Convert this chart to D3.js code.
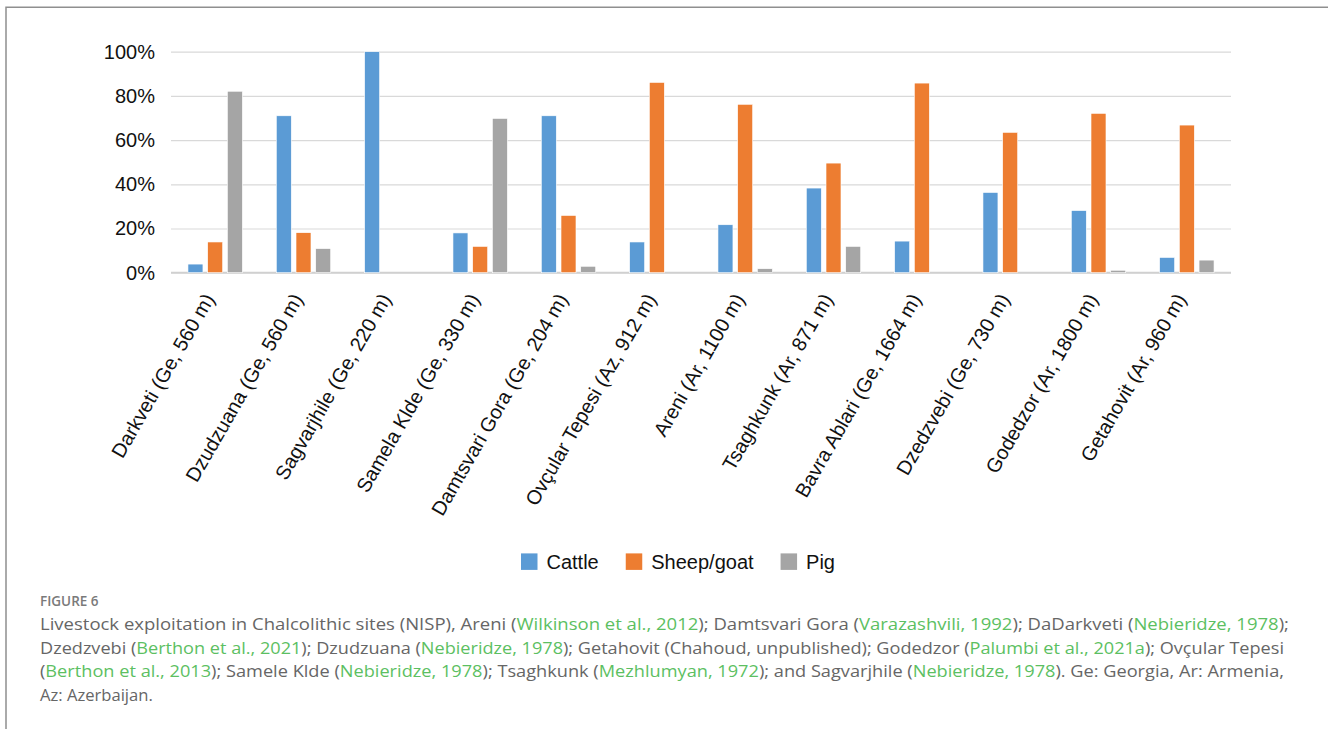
<!DOCTYPE html>
<html>
<head>
<meta charset="utf-8">
<title>Livestock exploitation in Chalcolithic sites</title>
<script src="https://d3js.org/d3.v7.min.js"></script>
<style>
  body { margin: 0; background: #fff; }
  svg { display: block; }
</style>
</head>
<body>
<svg width="1328" height="729"></svg>
<script>
  // values, % of NISP
  var sites = ["Darkveti (Ge, 560 m)", "Dzudzuana (Ge, 560 m)", "Sagvarjhile (Ge, 220 m)",
    "Samela Klde (Ge, 330 m)", "Damtsvari Gora (Ge, 204 m)", "Ovçular Tepesi (Az, 912 m)",
    "Areni (Ar, 1100 m)", "Tsaghkunk (Ar, 871 m)", "Bavra Ablari (Ge, 1664 m)",
    "Dzedzvebi (Ge, 730 m)", "Godedzor (Ar, 1800 m)", "Getahovit (Ar, 960 m)"];
  var series = ["Cattle", "Sheep/goat", "Pig"];
  var cattle = [3.9, 71, 100, 18, 71, 13.9, 21.7, 38.3, 14.3, 36.3, 28.1, 6.9];
  var sheepGoat = [13.9, 18.1, 0, 11.9, 25.9, 86.1, 76.2, 49.6, 85.8, 63.5, 72.1, 66.8];
  var pig = [82.1, 10.9, 0, 69.8, 2.9, 0, 1.8, 11.9, 0, 0, 1.1, 5.7];
  var yTicks = [0, 20, 40, 60, 80, 100];

  // caption lines, [text, isCitation]
  var captionLines = [
    [["Livestock exploitation in Chalcolithic sites (NISP), Areni (", 0], ["Wilkinson et al., 2012", 1],
     ["); Damtsvari Gora (", 0], ["Varazashvili, 1992", 1], ["); DaDarkveti (", 0], ["Nebieridze, 1978", 1], [");", 0]],
    [["Dzedzvebi (", 0], ["Berthon et al., 2021", 1], ["); Dzudzuana (", 0], ["Nebieridze, 1978", 1],
     ["); Getahovit (Chahoud, unpublished); Godedzor (", 0], ["Palumbi et al., 2021a", 1], ["); Ovçular Tepesi", 0]],
    [["(", 0], ["Berthon et al., 2013", 1], ["); Samele Klde (", 0], ["Nebieridze, 1978", 1],
     ["); Tsaghkunk (", 0], ["Mezhlumyan, 1972", 1], ["); and Sagvarjhile (", 0], ["Nebieridze, 1978", 1],
     ["). Ge: Georgia, Ar: Armenia,", 0]],
    [["Az: Azerbaijan.", 0]]
  ];

  var colors = ["#5b9bd5", "#ed7d31", "#a5a5a5"];
  var values = [cattle, sheepGoat, pig];
  var font = "'Liberation Sans', Arial, sans-serif";

  var svg = d3.select("svg");

  // frame
  svg.append("path")
    .attr("d", "M6,729 V7.3 H1328")
    .attr("fill", "none")
    .attr("stroke", "#8f8f8f")
    .attr("stroke-width", 1.5);

  var plotLeft = 171, plotRight = 1231, plotTop = 51.7, plotBottom = 272.7;

  var x0 = d3.scaleBand().domain(sites).range([plotLeft, plotRight]);
  var x1 = d3.scaleBand().domain(series).range([-27.2, 27.2]).paddingInner(0.24);
  var y = d3.scaleLinear().domain([0, 100]).range([plotBottom, plotTop]);
  var color = d3.scaleOrdinal().domain(series).range(colors);

  // y axis + gridlines
  var yAxis = svg.append("g")
    .attr("transform", "translate(" + plotLeft + ",0)")
    .call(d3.axisLeft(y).tickValues(yTicks).tickFormat(function(d) { return d + "%"; })
      .tickSize(-(plotRight - plotLeft)).tickPadding(16));
  yAxis.select(".domain").remove();
  yAxis.selectAll("line").attr("stroke", "#d9d9d9").attr("stroke-width", 1.2);
  yAxis.selectAll("text").attr("font-family", font).attr("font-size", 20).attr("fill", "#111");

  // base line
  svg.append("line")
    .attr("x1", plotLeft).attr("x2", plotRight)
    .attr("y1", y(0)).attr("y2", y(0))
    .attr("stroke", "#d0d0d0").attr("stroke-width", 1.8);

  // bars
  var rows = sites.map(function(s, i) {
    return series.map(function(k, j) { return { site: s, key: k, value: values[j][i] }; });
  });

  svg.append("g").selectAll("g")
    .data(rows)
    .enter().append("g")
    .attr("transform", function(d) { return "translate(" + (x0(d[0].site) + x0.bandwidth() / 2) + ",0)"; })
    .selectAll("rect")
    .data(function(d) { return d.filter(function(e) { return e.value > 0; }); })
    .enter().append("rect")
    .attr("x", function(d) { return x1(d.key); })
    .attr("y", function(d) { return y(d.value); })
    .attr("width", x1.bandwidth())
    .attr("height", function(d) { return y(0) - y(d.value); })
    .attr("fill", function(d) { return color(d.key); })
    .attr("stroke", "#fff")
    .attr("stroke-width", 0.6);

  // x axis labels
  var xAxis = svg.append("g")
    .attr("transform", "translate(0," + plotBottom + ")")
    .call(d3.axisBottom(x0).tickSize(0));
  xAxis.select(".domain").remove();
  xAxis.selectAll("text")
    .attr("x", 0).attr("y", 0).attr("dy", "0.35em")
    .attr("text-anchor", "end")
    .attr("transform", "translate(-6,22.5) rotate(-60)")
    .attr("font-family", font).attr("font-size", 20).attr("fill", "#111");

  // legend
  var legend = svg.append("g").attr("transform", "translate(0,561.7)");
  var lx = 521;
  series.forEach(function(k) {
    legend.append("rect")
      .attr("x", lx).attr("y", -8.3).attr("width", 16.5).attr("height", 16.5)
      .attr("fill", color(k));
    var t = legend.append("text")
      .attr("x", lx + 25.5).attr("y", 0).attr("dy", "0.35em")
      .attr("font-family", font).attr("font-size", 20).attr("fill", "#111")
      .text(k);
    lx += 25.5 + t.node().getComputedTextLength() + 27;
  });

  // caption
  svg.append("text")
    .attr("x", 40).attr("y", 606)
    .attr("font-family", "'Open Sans', 'Noto Sans', sans-serif")
    .attr("font-size", 13.5).attr("font-weight", 600)
    .attr("fill", "#7a7a7a")
    .text("FIGURE 6");

  var lineEnds = [1289, 1284, 1284, null];
  captionLines.forEach(function(line, i) {
    var t = svg.append("text")
      .attr("x", 40).attr("y", 630 + i * 23.6)
      .attr("font-family", "'Open Sans', 'Noto Sans', sans-serif")
      .attr("font-size", 16.6)
      .attr("fill", "#666");
    line.forEach(function(seg) {
      t.append("tspan").attr("fill", seg[1] ? "#5cbf62" : "#666").text(seg[0]);
    });
    if (lineEnds[i]) t.attr("textLength", lineEnds[i] - 40).attr("lengthAdjust", "spacingAndGlyphs");
  });
</script>
</body>
</html>
